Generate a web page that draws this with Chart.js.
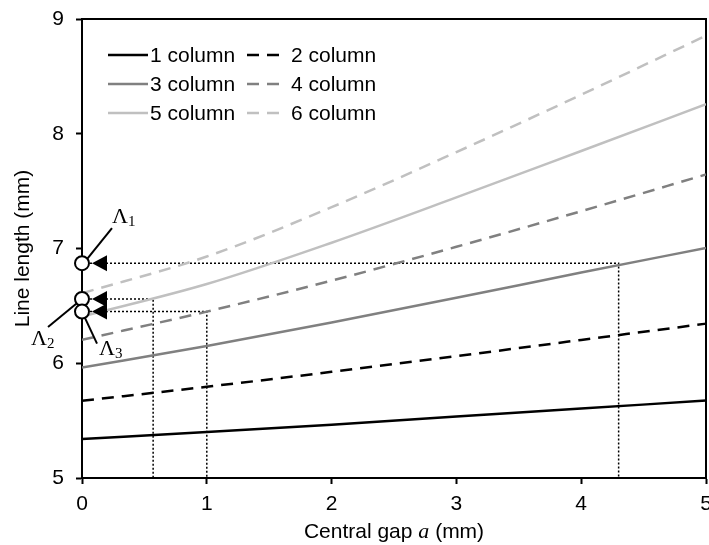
<!DOCTYPE html>
<html lang="en">
<head>
  <meta charset="UTF-8" />
  <title>Line length vs central gap</title>
  <script src="https://cdn.jsdelivr.net/npm/chart.js"></script>
  <style>
    body { margin: 0; background: #fff; }
    .wrap { position: relative; width: 709px; height: 545px; }
  </style>
</head>
<body>
  <div class="wrap"><canvas id="lenChart"></canvas></div>

  <script>
    // central gap a (mm)
    const gapMm = [0, 1, 2, 3, 4, 5];
    // line length (mm) per column count
    const col1 = [5.34, 5.40, 5.465, 5.535, 5.605, 5.675];
    const col2 = [5.673, 5.795, 5.925, 6.062, 6.203, 6.345];
    const col3 = [5.963, 6.15, 6.355, 6.57, 6.79, 7.005];
    const col4 = [6.204, 6.45, 6.72, 7.015, 7.325, 7.645];
    const col5 = [6.407, 6.69, 7.05, 7.445, 7.85, 8.257];
    const col6 = [6.61, 6.93, 7.36, 7.84, 8.34, 8.855];
    const seriesNames = ["1 column", "2 column", "3 column", "4 column", "5 column", "6 column"];

    // marked lengths Λ1..Λ3 and the gap where each one is reached
    const lambdaSub = ["1", "2", "3"];
    const lambdaLen = [6.872, 6.56, 6.45];
    const lambdaGap = [4.3, 0.57, 1.0];

    const xTicks = [0, 1, 2, 3, 4, 5];
    const yTicks = [5, 6, 7, 8, 9];

    const SANS = '"Liberation Sans", Arial, sans-serif';
    const SERIF = '"Liberation Serif", "Times New Roman", serif';
    const DASH = [12, 8];

    const pts = ys => gapMm.map((x, i) => ({ x: x, y: ys[i] }));

    function curve(label, ys, color, dashed) {
      return {
        label: label, data: pts(ys), borderColor: color, borderWidth: 2.5,
        borderDash: dashed ? DASH : [], pointRadius: 0, fill: false,
        cubicInterpolationMode: "monotone", order: 1
      };
    }

    const datasets = [
      curve(seriesNames[0], col1, "#000000", false),
      curve(seriesNames[1], col2, "#000000", true),
      curve(seriesNames[2], col3, "#808080", false),
      curve(seriesNames[3], col4, "#808080", true),
      curve(seriesNames[4], col5, "#c0c0c0", false),
      curve(seriesNames[5], col6, "#c0c0c0", true)
    ];
    // dotted guide: across at Λ, then down to the gap axis
    lambdaLen.forEach((v, i) => {
      datasets.push({
        label: "guide" + i,
        data: [{ x: 0, y: v }, { x: lambdaGap[i], y: v }, { x: lambdaGap[i], y: 5 }],
        borderColor: "#000", borderWidth: 1.5, borderDash: [2, 2],
        pointRadius: 0, tension: 0, order: 2
      });
    });

    const framePlugin = {
      id: "frame",
      beforeDatasetsDraw(chart) {
        const { ctx, chartArea: a } = chart;
        ctx.save();
        ctx.strokeStyle = "#000";
        ctx.lineWidth = 2;
        ctx.beginPath();
        ctx.moveTo(a.left, a.top);
        ctx.lineTo(a.right, a.top);
        ctx.lineTo(a.right, a.bottom);
        ctx.stroke();
        ctx.restore();
      }
    };

    const legendPlugin = {
      id: "boxLegend",
      afterDatasetsDraw(chart) {
        const { ctx, chartArea: a } = chart;
        ctx.save();
        ctx.font = "21px " + SANS;
        ctx.fillStyle = "#000";
        ctx.textBaseline = "middle";
        for (let i = 0; i < 6; i++) {
          const ds = chart.data.datasets[i];
          const col = i % 2, row = Math.floor(i / 2);
          const y = a.top + 36 + row * 29;
          const x0 = a.left + (col ? 165 : 26);
          const x1 = a.left + (col ? 198 : 66);
          const tx = a.left + (col ? 209 : 68);
          ctx.strokeStyle = ds.borderColor;
          ctx.lineWidth = 2.5;
          ctx.setLineDash(ds.borderDash);
          ctx.beginPath();
          ctx.moveTo(x0, y);
          ctx.lineTo(x1, y);
          ctx.stroke();
          ctx.setLineDash([]);
          ctx.fillText(ds.label, tx, y + 1);
        }
        ctx.restore();
      }
    };

    // leader line start/end and label offsets from each circle
    const leaders = [
      { from: [5, -4], to: [30, -35], lab: [30, -40], sub: [46, -37] },
      { from: [0, 0], to: [-34, 28], lab: [-51, 46], sub: [-35, 49] },
      { from: [0, 0], to: [15, 32], lab: [17, 43], sub: [33, 46] }
    ];

    const lambdaPlugin = {
      id: "lambdaMarks",
      afterDatasetsDraw(chart) {
        const ctx = chart.ctx;
        const xs = chart.scales.x, ys = chart.scales.y;
        ctx.save();
        ctx.strokeStyle = "#000";
        ctx.fillStyle = "#000";
        ctx.lineWidth = 2;
        lambdaLen.forEach((v, i) => {
          const cx = xs.getPixelForValue(0), cy = ys.getPixelForValue(v);
          const L = leaders[i];
          ctx.beginPath();
          ctx.moveTo(cx + L.from[0], cy + L.from[1]);
          ctx.lineTo(cx + L.to[0], cy + L.to[1]);
          ctx.stroke();
          // arrow head pointing at the axis
          ctx.beginPath();
          ctx.moveTo(cx + 10, cy);
          ctx.lineTo(cx + 25, cy - 8);
          ctx.lineTo(cx + 25, cy + 8);
          ctx.closePath();
          ctx.fill();
        });
        lambdaLen.forEach((v, i) => {
          const cx = xs.getPixelForValue(0), cy = ys.getPixelForValue(v);
          ctx.beginPath();
          ctx.arc(cx, cy, 7, 0, Math.PI * 2);
          ctx.fillStyle = "#fff";
          ctx.fill();
          ctx.stroke();
          const L = leaders[i];
          ctx.fillStyle = "#000";
          ctx.textBaseline = "alphabetic";
          ctx.font = "22px " + SERIF;
          ctx.fillText("Λ", cx + L.lab[0], cy + L.lab[1]);
          ctx.font = "15px " + SERIF;
          ctx.fillText(lambdaSub[i], cx + L.sub[0], cy + L.sub[1]);
        });
        ctx.restore();
      }
    };

    // x title mixes upright sans with an italic serif "a"
    const xTitlePlugin = {
      id: "xTitle",
      afterDraw(chart) {
        const { ctx, chartArea: a } = chart;
        const parts = [
          ["Central gap ", "21px " + SANS],
          ["a", "italic 22px " + SERIF],
          [" (mm)", "21px " + SANS]
        ];
        ctx.save();
        let w = 0;
        parts.forEach(p => { ctx.font = p[1]; w += ctx.measureText(p[0]).width; });
        let x = (a.left + a.right) / 2 - w / 2;
        ctx.fillStyle = "#000";
        ctx.textBaseline = "alphabetic";
        parts.forEach(p => {
          ctx.font = p[1];
          ctx.fillText(p[0], x, 538);
          x += ctx.measureText(p[0]).width;
        });
        ctx.restore();
      }
    };

    new Chart(document.getElementById("lenChart"), {
      type: "line",
      data: { datasets: datasets },
      options: {
        responsive: true,
        maintainAspectRatio: false,
        animation: false,
        layout: { padding: { top: 19, right: 3, bottom: 0, left: 0 } },
        plugins: { legend: { display: false }, tooltip: { enabled: false } },
        scales: {
          x: {
            type: "linear", min: 0, max: 5,
            afterBuildTicks: s => { s.ticks = xTicks.map(v => ({ value: v })); },
            ticks: { font: { size: 21, family: SANS }, color: "#000", padding: 8 },
            grid: { drawOnChartArea: false, tickLength: 6, tickColor: "#000", tickWidth: 2 },
            border: { color: "#000", width: 2 },
            afterFit: s => { s.height = 67; s.paddingLeft = 0; s.paddingRight = 0; }
          },
          y: {
            min: 5, max: 9,
            afterBuildTicks: s => { s.ticks = yTicks.map(v => ({ value: v })); },
            ticks: { font: { size: 21, family: SANS }, color: "#000", padding: 12 },
            grid: { drawOnChartArea: false, tickLength: 6, tickColor: "#000", tickWidth: 2 },
            border: { color: "#000", width: 2 },
            title: {
              display: true, text: "Line length (mm)", color: "#000",
              font: { size: 21, family: SANS }, padding: { top: 11, bottom: 0 }
            },
            afterFit: s => { s.width = 82; s.paddingTop = 0; s.paddingBottom = 0; }
          }
        }
      },
      plugins: [framePlugin, legendPlugin, lambdaPlugin, xTitlePlugin]
    });
  </script>
</body>
</html>
